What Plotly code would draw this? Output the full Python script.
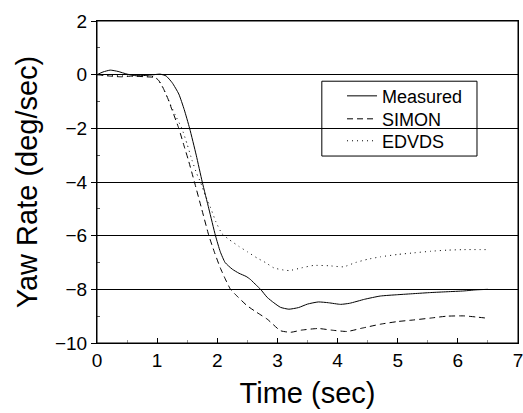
import plotly.graph_objects as go

# Measured
t_meas = [0.0, 0.1, 0.22, 0.35, 0.5, 0.65, 0.8, 0.95, 1.05, 1.15, 1.25, 1.36, 1.45, 1.54, 1.65,
          1.75, 1.86, 1.97, 2.05, 2.13, 2.25, 2.36, 2.48, 2.55, 2.65, 2.72, 2.83, 2.94, 3.05,
          3.19, 3.35, 3.5, 3.68, 3.85, 4.05, 4.2, 4.45, 4.71, 5.0, 5.27, 5.55, 5.82, 6.1, 6.3, 6.5]
v_meas = [0.0, 0.1, 0.17, 0.12, 0.02, -0.04, -0.03, 0.0, 0.02, -0.05, -0.3, -0.72, -1.3, -2.0, -3.0,
          -4.0, -5.0, -6.0, -6.6, -7.0, -7.25, -7.4, -7.52, -7.63, -7.85, -8.0, -8.3, -8.5, -8.67,
          -8.74, -8.68, -8.55, -8.47, -8.5, -8.56, -8.52, -8.37, -8.25, -8.2, -8.16, -8.12, -8.09,
          -8.06, -8.02, -8.0]

# SIMON
t_simon = [0.0, 0.2, 0.4, 0.6, 0.8, 0.95, 1.02, 1.1, 1.18, 1.25, 1.36, 1.44, 1.52, 1.62, 1.74,
           1.86, 1.95, 2.05, 2.13, 2.22, 2.35, 2.49, 2.65, 2.83, 3.05, 3.22, 3.4, 3.68, 3.9,
           4.16, 4.4, 4.71, 5.0, 5.27, 5.55, 5.82, 6.1, 6.3, 6.5]
v_simon = [0.0, -0.05, -0.08, -0.05, -0.08, -0.1, -0.2, -0.5, -0.9, -1.33, -2.0, -2.6, -3.19, -4.0,
           -5.0, -6.0, -6.6, -7.2, -7.6, -8.0, -8.3, -8.6, -8.85, -9.11, -9.54, -9.6, -9.52, -9.46,
           -9.52, -9.57, -9.45, -9.3, -9.2, -9.14, -9.07, -9.0, -8.99, -9.03, -9.08]

# EDVDS
t_edvds = [0.0, 0.2, 0.5, 0.8, 0.95, 1.02, 1.1, 1.2, 1.3, 1.41, 1.5, 1.58, 1.66, 1.72, 1.8, 1.88,
           1.98, 2.08, 2.2, 2.36, 2.5, 2.66, 2.8, 2.94, 3.1, 3.2, 3.4, 3.6, 3.85, 4.1, 4.3, 4.5,
           4.71, 5.0, 5.27, 5.55, 5.82, 6.1, 6.5]
v_edvds = [0.0, -0.03, -0.05, -0.05, -0.08, -0.2, -0.5, -1.0, -1.5, -2.0, -2.6, -3.19, -3.7, -4.0,
           -4.5, -4.91, -5.5, -5.93, -6.15, -6.4, -6.6, -6.83, -7.0, -7.2, -7.28, -7.3, -7.2,
           -7.11, -7.12, -7.16, -7.0, -6.88, -6.79, -6.7, -6.64, -6.58, -6.54, -6.52, -6.52]

x_ticks = [0, 1, 2, 3, 4, 5, 6, 7]
y_ticks = [2, 0, -2, -4, -6, -8, -10]

FONT = "Liberation Sans, Arial, sans-serif"
LEG_FONT = dict(size=18, family=FONT, color="black")

fig = go.Figure()
fig.add_trace(go.Scatter(x=t_meas, y=v_meas, mode="lines", name="Measured", legend="legend",
                         line=dict(color="black", width=1, shape="spline", smoothing=0.5)))
fig.add_trace(go.Scatter(x=t_simon, y=v_simon, mode="lines", name="SIMON", legend="legend2",
                         line=dict(color="black", width=1, dash="6px,4px", shape="spline", smoothing=0.5)))
fig.add_trace(go.Scatter(x=t_edvds, y=v_edvds, mode="lines", name="EDVDS", legend="legend3",
                         line=dict(color="black", width=1, dash="1px,4px", shape="spline", smoothing=0.5)))

leg_common = dict(x=0.582, xanchor="left", yanchor="middle", borderwidth=0,
                  bgcolor="rgba(0,0,0,0)", font=LEG_FONT)

fig.update_layout(
    width=523, height=413,
    margin=dict(l=97, r=5, t=21, b=70),
    paper_bgcolor="white", plot_bgcolor="white",
    font=dict(family=FONT, color="black"),
    showlegend=True,
    legend=dict(y=0.7666, **leg_common),
    legend2=dict(y=0.6953, **leg_common),
    legend3=dict(y=0.6271, **leg_common),
    shapes=[
        dict(type="rect", xref="paper", yref="paper", x0=0.534, x1=0.9026, y0=0.5806, y1=0.813,
             line=dict(color="black", width=1), fillcolor="white", layer="below"),
        dict(type="rect", xref="paper", yref="paper", x0=0, x1=1, y0=0, y1=1,
             line=dict(color="black", width=1), fillcolor="rgba(0,0,0,0)", layer="above"),
    ],
    xaxis=dict(range=[0, 7], tickvals=x_ticks, ticks="inside", ticklen=5, tickcolor="black",
               showline=True, linecolor="black", linewidth=1, mirror=True,
               showgrid=False, zeroline=False, automargin=False, ticklabeloverflow="allow",
               tickfont=dict(size=19, family=FONT),
               minor=dict(dtick=0.5, ticks="inside", ticklen=3, tickcolor="#999"),
               title=dict(text="Time (sec)", font=dict(size=29, family=FONT), standoff=12)),
    yaxis=dict(range=[-10, 2], tickvals=y_ticks, ticks="outside", ticklen=5, tickcolor="black",
               showline=True, linecolor="black", linewidth=1, mirror=True,
               showgrid=True, gridcolor="black", gridwidth=1, zeroline=False, automargin=False,
               ticklabeloverflow="allow",
               tickfont=dict(size=19, family=FONT),
               minor=dict(dtick=2, tick0=1, ticks="inside", ticklen=3, tickcolor="#555", showgrid=False),
               title=dict(text="Yaw Rate (deg/sec)", font=dict(size=29, family=FONT), standoff=8)),
)

fig.write_html(
    "out.html",
    config={"displayModeBar": False},
    post_script="document.body.style.margin='0';document.documentElement.style.overflow='hidden';",
)
